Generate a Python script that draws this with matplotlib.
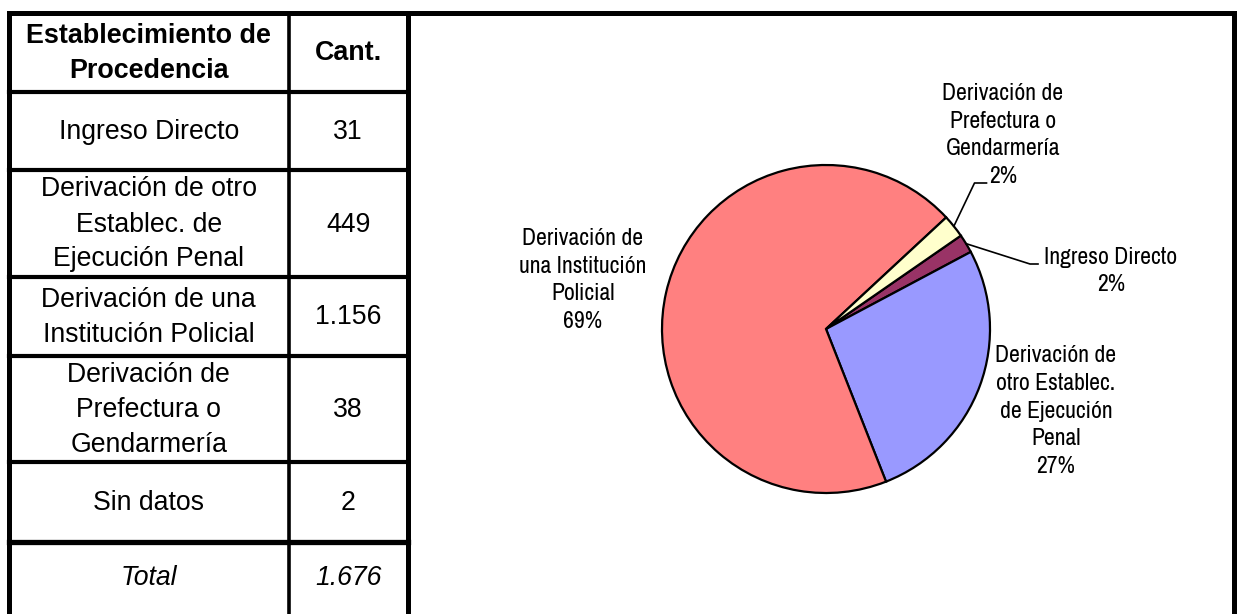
import matplotlib
matplotlib.use("Agg")
import matplotlib.pyplot as plt
from matplotlib import font_manager
import numpy as np

# datos de la tabla
categorias = [
    "Ingreso Directo",
    "Derivación de otro\nEstablec. de\nEjecución Penal",
    "Derivación de una\nInstitución Policial",
    "Derivación de\nPrefectura o\nGendarmería",
    "Sin datos",
]
cantidades = [31, 449, 1156, 38, 2]

# etiquetas del gráfico (sin "Sin datos")
etiquetas_pie = [
    "Ingreso Directo",
    "Derivación de\notro Establec.\nde Ejecución\nPenal",
    "Derivación de\nuna Institución\nPolicial",
    "Derivación de\nPrefectura o\nGendarmería",
]
valores_pie = cantidades[:4]
colores = ["#993366", "#9999FF", "#FF8080", "#FFFFCC"]

W, H = 1238, 614
TABLE_FONT = ["Liberation Sans", "DejaVu Sans"]

# buscar alguna fuente angosta instalada (tipo Arial Narrow)
instaladas = {f.name for f in font_manager.fontManager.ttflist}
angostas = sorted(n for n in instaladas
                  if "narrow" in n.lower() or "condensed" in n.lower())
preferidas = ["Liberation Sans Narrow", "Arial Narrow", "Archivo Narrow",
              "PT Sans Narrow"] + angostas
elegida = next((n for n in preferidas if n in instaladas), None)
if elegida:
    PIE_FONT = [elegida, "DejaVu Sans"]
    pie_size, pie_ls = 17.1, 1.39
else:
    PIE_FONT = ["Liberation Sans", "DejaVu Sans"]
    pie_size, pie_ls = 14.3, 1.6


def miles(n):
    return f"{n:,}".replace(",", ".")


fig = plt.figure(figsize=(W / 100, H / 100), dpi=100)

# capa en pixeles para la tabla y los bordes
ax = fig.add_axes([0, 0, 1, 1])
ax.set_xlim(0, W)
ax.set_ylim(H, 0)
ax.axis("off")

x_left, x_div, x_tab, x_right = 8.5, 289, 407.5, 1234
y_top = 13
filas = [92, 170, 277, 356, 462, 542]

ax.plot([x_left, x_right], [y_top, y_top], color="black", lw=3.6, solid_capstyle="projecting")
for x in [x_left, x_div, x_tab, x_right]:
    ax.plot([x, x], [y_top, H + 5], color="black", lw=3.6 if x != x_div else 2.6,
            solid_capstyle="projecting")
for i, y in enumerate(filas):
    ax.plot([x_left, x_tab], [y, y], color="black", lw=3.8 if i == len(filas) - 1 else 3.0)

c1 = (x_left + x_div) / 2
c2 = (x_div + x_tab) / 2
bordes = [y_top] + filas + [H]

ax.text(c1, (bordes[0] + bordes[1]) / 2 + 1, "Establecimiento de\nProcedencia", ha="center",
        va="center", fontsize=19.4, fontweight="bold", family=TABLE_FONT, linespacing=1.42)
ax.text(c2, (bordes[0] + bordes[1]) / 2 + 1, "Cant.", ha="center", va="center",
        fontsize=19.4, fontweight="bold", family=TABLE_FONT)

for i, (cat, n) in enumerate(zip(categorias, cantidades)):
    yc = (bordes[i + 1] + bordes[i + 2]) / 2 + 1
    ax.text(c1, yc, cat, ha="center", va="center", fontsize=19.2, family=TABLE_FONT,
            linespacing=1.45)
    ax.text(c2, yc, miles(n), ha="center", va="center", fontsize=19.2, family=TABLE_FONT)

yc = (bordes[-2] + bordes[-1]) / 2
ax.text(c1, yc, "Total", ha="center", va="center", fontsize=19.2, style="italic",
        family=TABLE_FONT)
ax.text(c2, yc, miles(sum(cantidades)), ha="center", va="center", fontsize=19.2,
        style="italic", family=TABLE_FONT)

# gráfico de torta: centro y radio en pixeles
cx, cy, r = 826, 329, 164
pax = fig.add_axes([0, 0, 1, 1])
wedges, _ = pax.pie(valores_pie, colors=colores, startangle=34.7, counterclock=False,
                    wedgeprops=dict(edgecolor="black", linewidth=1.6))
pax.set_aspect("auto")
pax.set_xlim(-cx / r, (W - cx) / r)
pax.set_ylim((cy - H) / r, cy / r)
pax.axis("off")


def pix(x, y):
    return (x - cx) / r, (cy - y) / r


pct = [round(v / sum(valores_pie) * 100) for v in valores_pie]
textos = [f"{e}\n{p}%" for e, p in zip(etiquetas_pie, pct)]

# posiciones de las etiquetas (pixeles)
pos_etiquetas = [(1111, 271), (1056, 411), (583, 280), (1003, 135)]
for t, (x, y) in zip(textos, pos_etiquetas):
    tx, ty = pix(x, y)
    pax.text(tx, ty, t, ha="center", va="center", fontsize=pie_size, family=PIE_FONT,
             linespacing=pie_ls)

# lineas guía para las porciones chicas
codos = {0: [(1030, 264), (1038, 264)], 3: [(974.5, 183), (986.5, 183)]}
for i, pts in codos.items():
    w = wedges[i]
    ang = np.deg2rad((w.theta1 + w.theta2) / 2)
    xs = [np.cos(ang)] + [pix(*p)[0] for p in pts]
    ys = [np.sin(ang)] + [pix(*p)[1] for p in pts]
    pax.plot(xs, ys, color="black", lw=1.2)

fig.savefig("out.png", dpi=100)
